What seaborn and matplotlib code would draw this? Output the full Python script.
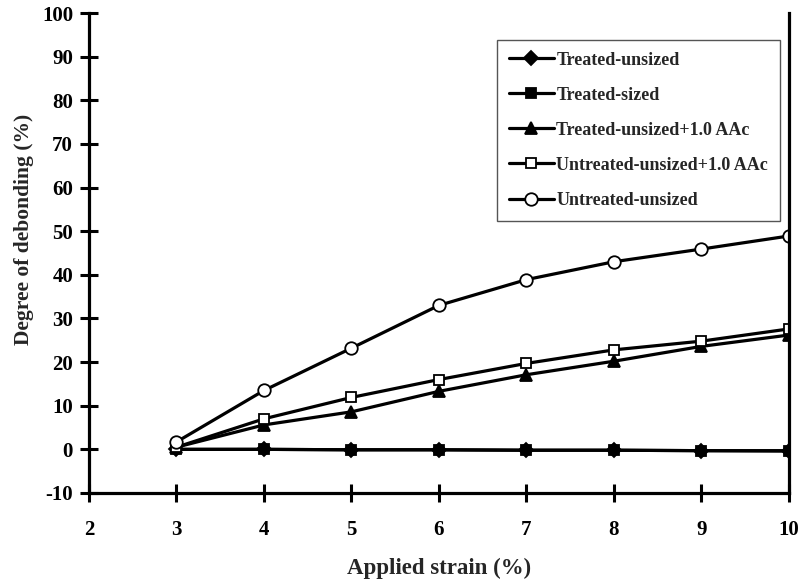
import numpy as np
import pandas as pd
import matplotlib
matplotlib.use("Agg")
import matplotlib.pyplot as plt
import seaborn as sns

# Applied strain (%) and degree of debonding (%) per fibre treatment
strain = [3, 4, 5, 6, 7, 8, 9, 10]
treated_unsized = [0.0, 0.0, -0.1, -0.1, -0.2, -0.2, -0.3, -0.3]
treated_sized = [0.0, 0.0, -0.1, -0.1, -0.2, -0.2, -0.3, -0.4]
treated_unsized_aac = [0.5, 5.6, 8.6, 13.3, 17.1, 20.2, 23.6, 26.2]
untreated_unsized_aac = [0.5, 7.0, 11.9, 16.0, 19.7, 22.8, 24.8, 27.6]
untreated_unsized = [1.7, 13.5, 23.2, 33.0, 38.9, 43.0, 45.9, 48.9]

series_names = [
    "Treated-unsized",
    "Treated-sized",
    "Treated-unsized+1.0 AAc",
    "Untreated-unsized+1.0 AAc",
    "Untreated-unsized",
]
series_values = [
    treated_unsized,
    treated_sized,
    treated_unsized_aac,
    untreated_unsized_aac,
    untreated_unsized,
]

# marker shape, size, face colour for each series
marker_style = {
    "Treated-unsized": ("D", 7.5, "black"),
    "Treated-sized": ("s", 7.0, "black"),
    "Treated-unsized+1.0 AAc": ("^", 8.5, "black"),
    "Untreated-unsized+1.0 AAc": ("s", 7.5, "white"),
    "Untreated-unsized": ("o", 9.0, "white"),
}

df = pd.concat(
    [pd.DataFrame({"strain": strain, "debond": vals, "sample": name})
     for name, vals in zip(series_names, series_values)],
    ignore_index=True,
)

sns.set_theme(style="white")
plt.rcParams["font.family"] = ["Liberation Serif", "DejaVu Serif"]
plt.rcParams["font.weight"] = "bold"
plt.rcParams["axes.unicode_minus"] = False

fig = plt.figure(figsize=(8.04, 5.83), dpi=100)
ax = fig.add_axes([0.1107, 0.1544, 0.8706, 0.8233])

for name in series_names:
    mk, ms, fc = marker_style[name]
    sns.lineplot(
        data=df[df["sample"] == name], x="strain", y="debond",
        color="black", linewidth=2.3, marker=mk, markersize=ms,
        markerfacecolor=fc, markeredgecolor="black", markeredgewidth=1.3,
        label=name, ax=ax,
    )

ax.set_xlim(2, 10)
ax.set_ylim(-10, 100)
ax.set_xticks(range(2, 11))
ax.set_yticks(range(-10, 101, 10))

for side in ("left", "bottom", "right"):
    ax.spines[side].set_visible(True)
    ax.spines[side].set_linewidth(2.3)
    ax.spines[side].set_color("black")
ax.spines["top"].set_visible(False)

ax.tick_params(axis="both", direction="inout", length=13, width=2.2,
               colors="black", labelsize=15)
ax.tick_params(axis="x", pad=13, bottom=True)
ax.tick_params(axis="y", pad=5, left=True)
for lbl in ax.get_xticklabels() + ax.get_yticklabels():
    lbl.set_fontweight("bold")

ax.set_xlabel("Applied strain (%)", fontsize=16.5, fontweight="bold")
ax.set_ylabel("Degree of debonding (%)", fontsize=15.5, fontweight="bold")
ax.xaxis.set_label_coords(0.5, -0.135)
ax.yaxis.set_label_coords(-0.078, 0.55)

handles, labels = ax.get_legend_handles_labels()
leg = ax.legend(
    handles, labels, loc="upper right", bbox_to_anchor=(0.987, 0.944),
    frameon=True, fancybox=False, edgecolor="#555555", framealpha=1,
    prop={"family": "Liberation Serif", "weight": "bold", "size": 13},
    labelspacing=1.0, handlelength=2.5, handletextpad=0.15,
    borderpad=0.65, borderaxespad=0.0,
)
leg.get_frame().set_linewidth(1.0)

fig.savefig("out.png", dpi=100, facecolor="white")
